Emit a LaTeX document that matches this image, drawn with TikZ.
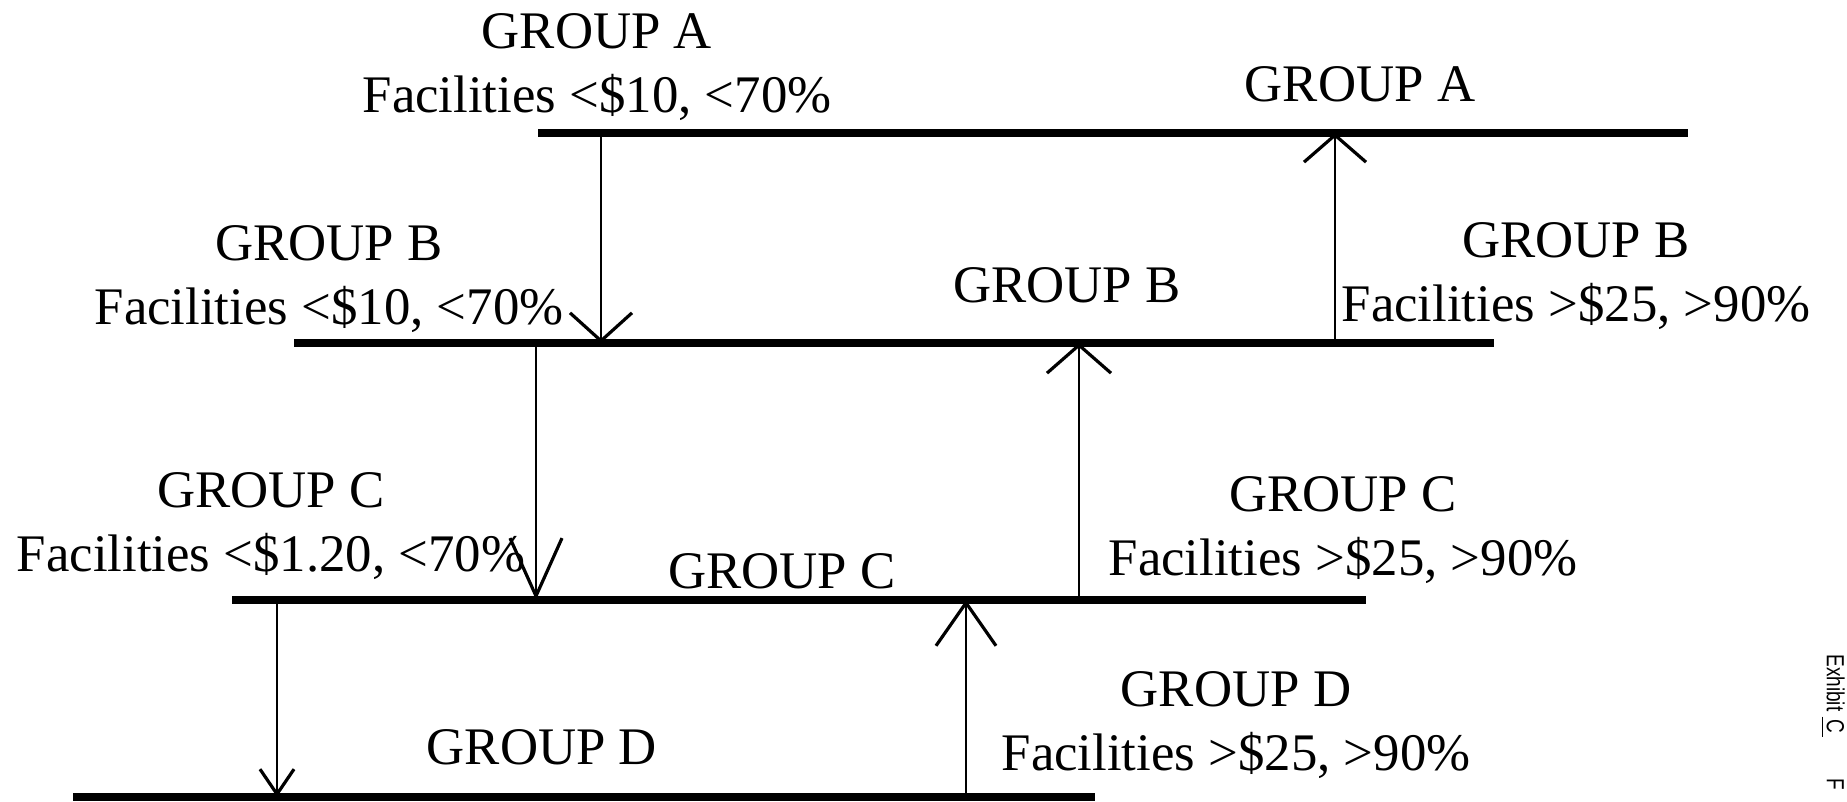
\documentclass[tikz,border=0pt]{standalone}
\usepackage{fontspec}
\setmainfont{Liberation Serif}
\setsansfont{Liberation Sans}
\usetikzlibrary{arrows.meta}

\begin{document}
\begin{tikzpicture}[x=0.5pt,y=-0.5pt,
  level/.style={line width=3.8pt},
  flow/.style 2 args={line width=1pt,-{Straight Barb[length=#1,width=#2,line width=1.6pt]}},
  lbl/.style={font=\fontsize{26.4}{32}\selectfont,inner sep=0pt,align=center}]
  \useasboundingbox (0,0) rectangle (1847,802);

  % ends of the levels
  \coordinate (aW) at (538,133); \coordinate (aE) at (1688,133);
  \coordinate (bW) at (294,343); \coordinate (bE) at (1494,343);
  \coordinate (cW) at (232,600); \coordinate (cE) at (1366,600);
  \coordinate (dW) at (73,797);  \coordinate (dE) at (1095,797);

  % feet of the moves
  \coordinate (ab1) at (601,133);  \coordinate (ab2) at (601,343);
  \coordinate (bc1) at (536,343);  \coordinate (bc2) at (536,600);
  \coordinate (cd1) at (277,600);  \coordinate (cd2) at (277,797);
  \coordinate (dc1) at (966,797);  \coordinate (dc2) at (966,600);
  \coordinate (cb1) at (1079,600); \coordinate (cb2) at (1079,343);
  \coordinate (ba1) at (1335,343); \coordinate (ba2) at (1335,133);

  \draw[flow={14pt}{31pt}] (ab1) -- (ab2);
  \draw[flow={29pt}{26pt}] (bc1) -- (bc2);
  \draw[flow={12.5pt}{17pt}] (cd1) -- (cd2);
  \draw[flow={21.5pt}{30pt}] (dc1) -- (dc2);
  \draw[flow={14pt}{32pt}] (cb1) -- (cb2);
  \draw[flow={13.5pt}{31pt}] (ba1) -- (ba2);

  \draw[level] (aW) -- (aE);
  \draw[level] (bW) -- (bE);
  \draw[level] (cW) -- (cE);
  \draw[level] (dW) -- (dE);

  % names on the levels
  \node[lbl,anchor=base] (na) at (1360,102) {GROUP A};
  \node[lbl,anchor=base] (nb) at (1067,303) {GROUP B};
  \node[lbl,anchor=base] (nc) at (782,588) {GROUP C};
  \node[lbl,anchor=base] (nd) at (542,764) {GROUP D};

  % going down
  \node[lbl] (la) at (597,67) {GROUP A\\Facilities <\$10, <70\%};
  \node[lbl] (lb) at (329,279) {GROUP B\\Facilities <\$10, <70\%};
  \node[lbl] (lc) at (271,526) {GROUP C\\Facilities <\$1.20, <70\%};

  % going up
  \node[lbl] (rb) at (1576,276) {GROUP B\\Facilities >\$25, >90\%};
  \node[lbl] (rc) at (1343,530) {GROUP C\\Facilities >\$25, >90\%};
  \node[lbl] (rd) at (1236,725) {GROUP D\\Facilities >\$25, >90\%};

  \node[font=\sffamily\fontsize{9.5}{11}\selectfont,rotate=-90,anchor=west,inner sep=0pt]
    (exh) at (1833,654) {\scalebox{1}[1.3]{Exhibit \underline{\,C\,}\hspace{21pt}F}};
\end{tikzpicture}
\end{document}
